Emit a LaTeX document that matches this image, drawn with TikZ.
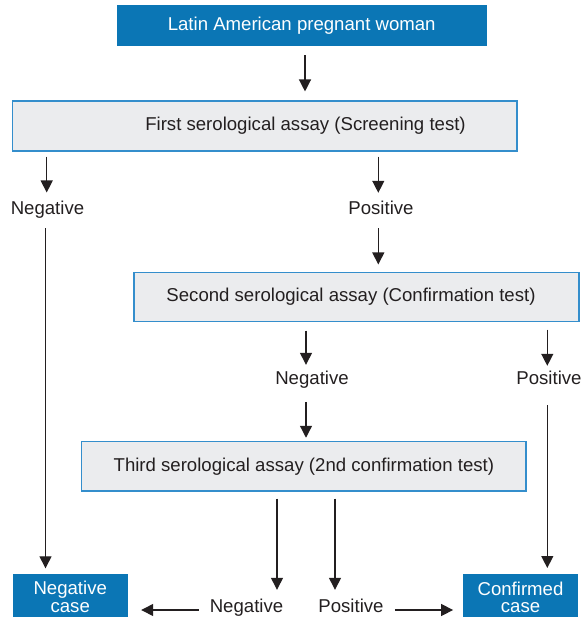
\documentclass[tikz,border=0pt]{standalone}
\usepackage{fontspec}
\setmainfont{Liberation Sans}
\usetikzlibrary{arrows.meta,calc}
\definecolor{boxblue}{RGB}{11,118,181}
\definecolor{panel}{RGB}{235,236,238}
\definecolor{rule}{RGB}{52,142,204}
\definecolor{ink}{RGB}{35,31,32}
\begin{document}
\begin{tikzpicture}[x=1pt,y=-1pt,
  font=\fontsize{18.6}{16.5}\selectfont,
  bluebox/.style={fill=boxblue, text=white, inner sep=0pt, rectangle},
  casebox/.style={bluebox, anchor=north, inner ysep=7.5pt, align=center, font=\fontsize{18.6}{17.6}\selectfont},
  greybox/.style={fill=panel, draw=rule, line width=1.1pt, text=ink, inner sep=0pt, rectangle},
  lbl/.style={inner sep=0pt, text height=13pt, text depth=4pt, anchor=base, text=ink},
  arr/.style={draw=ink, line width=1.3pt, -{Triangle[length=12pt,width=12pt]}}]
\useasboundingbox (0,0) rectangle (585,617);

% boxes
\node[bluebox, minimum width=370pt, minimum height=40.7pt] (top) at (301.7,25.3) {Latin American pregnant woman};
\node[greybox, minimum width=504.5pt, minimum height=50pt] (first) at (264.75,126) {};
\node[inner sep=0pt, text=ink] (firstT) at (305.5,126) {First serological assay (Screening test)};
\node[greybox, minimum width=445pt, minimum height=49.2pt] (second) at (356.5,297.1) {};
\node[inner sep=0pt, text=ink] (secondT) at (351,297.1) {Second serological assay (Confirmation test)};
\node[greybox, minimum width=444.3pt, minimum height=49.3pt] (third) at (303.85,466.35) {Third serological assay (2nd confirmation test)};
\node[casebox, minimum width=115.5pt] (negcase) at (70.25,573.5) {Negative\\case};
\node[casebox, minimum width=115.6pt] (confcase) at (520.5,574) {Confirmed\\case};

% outcome labels
\node[lbl] (negA) at (47.5,215) {Negative};
\node[lbl] (posA) at (381,215) {Positive};
\node[lbl] (negB) at (312,384) {Negative};
\node[lbl] (posB) at (549,384) {Positive};
\node[lbl] (negC) at (246.5,612) {Negative};
\node[lbl] (posC) at (351,612) {Positive};

% connectors
\draw[arr, shorten <=9.3pt, shorten >=9pt] ($(top.south)+(3.3,0)$) -- ($(top.south |- first.north)+(3.3,0)$);
\draw[arr, shorten <=5pt, shorten >=9.3pt] ($(negA.north |- first.south)+(-0.8,0)$) -- ($(negA.north)+(-0.8,0)$);
\draw[arr, shorten <=5pt, shorten >=9pt] ($(posA.north |- first.south)+(-2.7,0)$) -- ($(posA.north)+(-2.7,0)$);
\draw[arr, shorten <=9pt, shorten >=7.5pt] ($(posA.south)+(-2.7,0)$) -- ($(posA.south |- second.north)+(-2.7,0)$);
\draw[arr, shorten <=8.3pt, shorten >=6pt] ($(negB.north |- second.south)+(-6,0)$) -- ($(negB.north)+(-6,0)$);
\draw[arr, shorten <=7.3pt, shorten >=5pt] ($(posB.north |- second.south)+(-1.7,0)$) -- ($(posB.north)+(-1.7,0)$);
\draw[arr, shorten <=13.7pt, shorten >=3.4pt] ($(negB.south)+(-6,0)$) -- ($(negB.south |- third.north)+(-6,0)$);
\draw[arr, shorten <=9.3pt, shorten >=5.2pt] ($(negA.south)+(-2,0)$) -- ($(negA.south |- negcase.north)+(-2,0)$);
\draw[arr, shorten <=17pt, shorten >=6pt] ($(posB.south)+(-1.7,0)$) -- ($(posB.south |- confcase.north)+(-1.7,0)$);
\draw[arr, shorten <=7pt, shorten >=9pt] ($(negC.north |- third.south)+(30.5,0)$) -- ($(negC.north)+(30.5,0)$);
\draw[arr, shorten <=7pt, shorten >=9pt] ($(posC.north |- third.south)+(-16,0)$) -- ($(posC.north)+(-16,0)$);
\draw[arr, shorten <=11pt, shorten >=13pt] ($(negC.west)+(0,2.5)$) -- ($(negC.west -| negcase.east)+(0,2.5)$);
\draw[arr, shorten <=11pt, shorten >=9.4pt] ($(posC.east)+(0,2.5)$) -- ($(posC.east -| confcase.west)+(0,2.5)$);
\end{tikzpicture}
\end{document}
